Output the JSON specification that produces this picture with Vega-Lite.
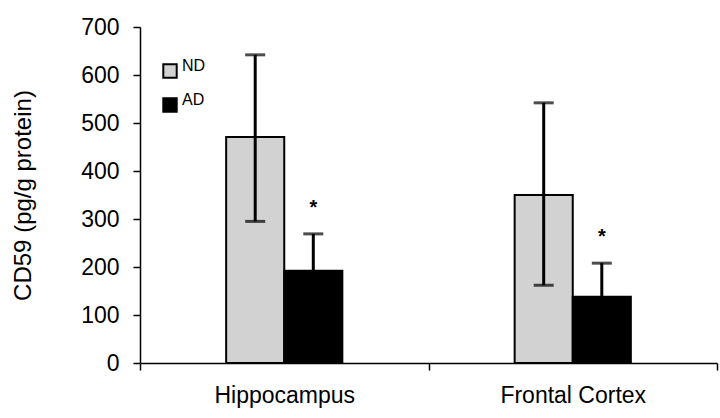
{
  "$schema": "https://vega.github.io/schema/vega-lite/v6.json",
  "width": 577,
  "height": 336,
  "autosize": {"type": "none"},
  "padding": {"left": 140, "top": 27, "right": 3, "bottom": 55},
  "background": "white",
  "config": {
    "view": {"stroke": null},
    "font": "Liberation Sans",
    "axis": {"domainColor": "black", "tickColor": "black", "labelColor": "black", "titleColor": "black", "grid": false, "domainWidth": 1.5, "tickWidth": 1.5}
  },
  "data": {
    "values": [
      {"region": "Hippocampus", "group": "ND", "mean": 471, "lo": 295, "hi": 642, "sig": ""},
      {"region": "Hippocampus", "group": "AD", "mean": 192, "lo": 115, "hi": 269, "sig": "*"},
      {"region": "Frontal Cortex", "group": "ND", "mean": 350, "lo": 162, "hi": 542, "sig": ""},
      {"region": "Frontal Cortex", "group": "AD", "mean": 138, "lo": 68, "hi": 208, "sig": "*"}
    ]
  },
  "encoding": {
    "x": {
      "field": "region", "type": "nominal", "sort": ["Hippocampus", "Frontal Cortex"],
      "scale": {"paddingInner": 0, "paddingOuter": 0},
      "axis": {"title": null, "labelAngle": 0, "labelFontSize": 23, "labelPadding": 14, "tickSize": 7, "tickBand": "extent"}
    },
    "xOffset": {"field": "group", "type": "nominal", "scale": {"domain": ["pad1", "ND", "AD", "pad2"], "paddingInner": 0, "paddingOuter": 0.483}}
  },
  "layer": [
    {
      "mark": {"type": "bar", "stroke": "black", "strokeWidth": 2},
      "encoding": {
        "y": {
          "field": "mean", "type": "quantitative",
          "scale": {"domain": [0, 700], "nice": false},
          "axis": {"title": "CD59 (pg/g protein)", "values": [0, 100, 200, 300, 400, 500, 600, 700], "labelFontSize": 23, "titleFontSize": 24, "titleFontWeight": "normal", "tickSize": 7, "labelPadding": 14, "titlePadding": 45}
        },
        "color": {
          "field": "group", "type": "nominal", "sort": ["ND", "AD"],
          "scale": {"domain": ["ND", "AD"], "range": ["#d2d2d2", "#000000"]},
          "legend": {
            "title": null, "orient": "none", "legendX": 22, "legendY": 36,
            "symbolType": "square", "symbolSize": 180, "symbolStrokeColor": "black", "symbolStrokeWidth": 2,
            "labelFontSize": 16, "labelBaseline": "alphabetic", "labelOffset": 4, "rowPadding": 10
          }
        }
      }
    },
    {
      "mark": {"type": "rule", "color": "black", "strokeWidth": 3},
      "encoding": {"y": {"field": "lo", "type": "quantitative"}, "y2": {"field": "hi"}}
    },
    {
      "mark": {"type": "tick", "color": "black", "thickness": 3, "size": 20, "orient": "horizontal"},
      "encoding": {"y": {"field": "hi", "type": "quantitative"}}
    },
    {
      "mark": {"type": "tick", "color": "black", "thickness": 3, "size": 20, "orient": "horizontal"},
      "encoding": {"y": {"field": "lo", "type": "quantitative"}}
    },
    {
      "mark": {"type": "text", "fontSize": 20, "fontWeight": "bold", "baseline": "middle", "dy": -26, "color": "black"},
      "encoding": {"y": {"field": "hi", "type": "quantitative"}, "text": {"field": "sig"}}
    }
  ]
}
